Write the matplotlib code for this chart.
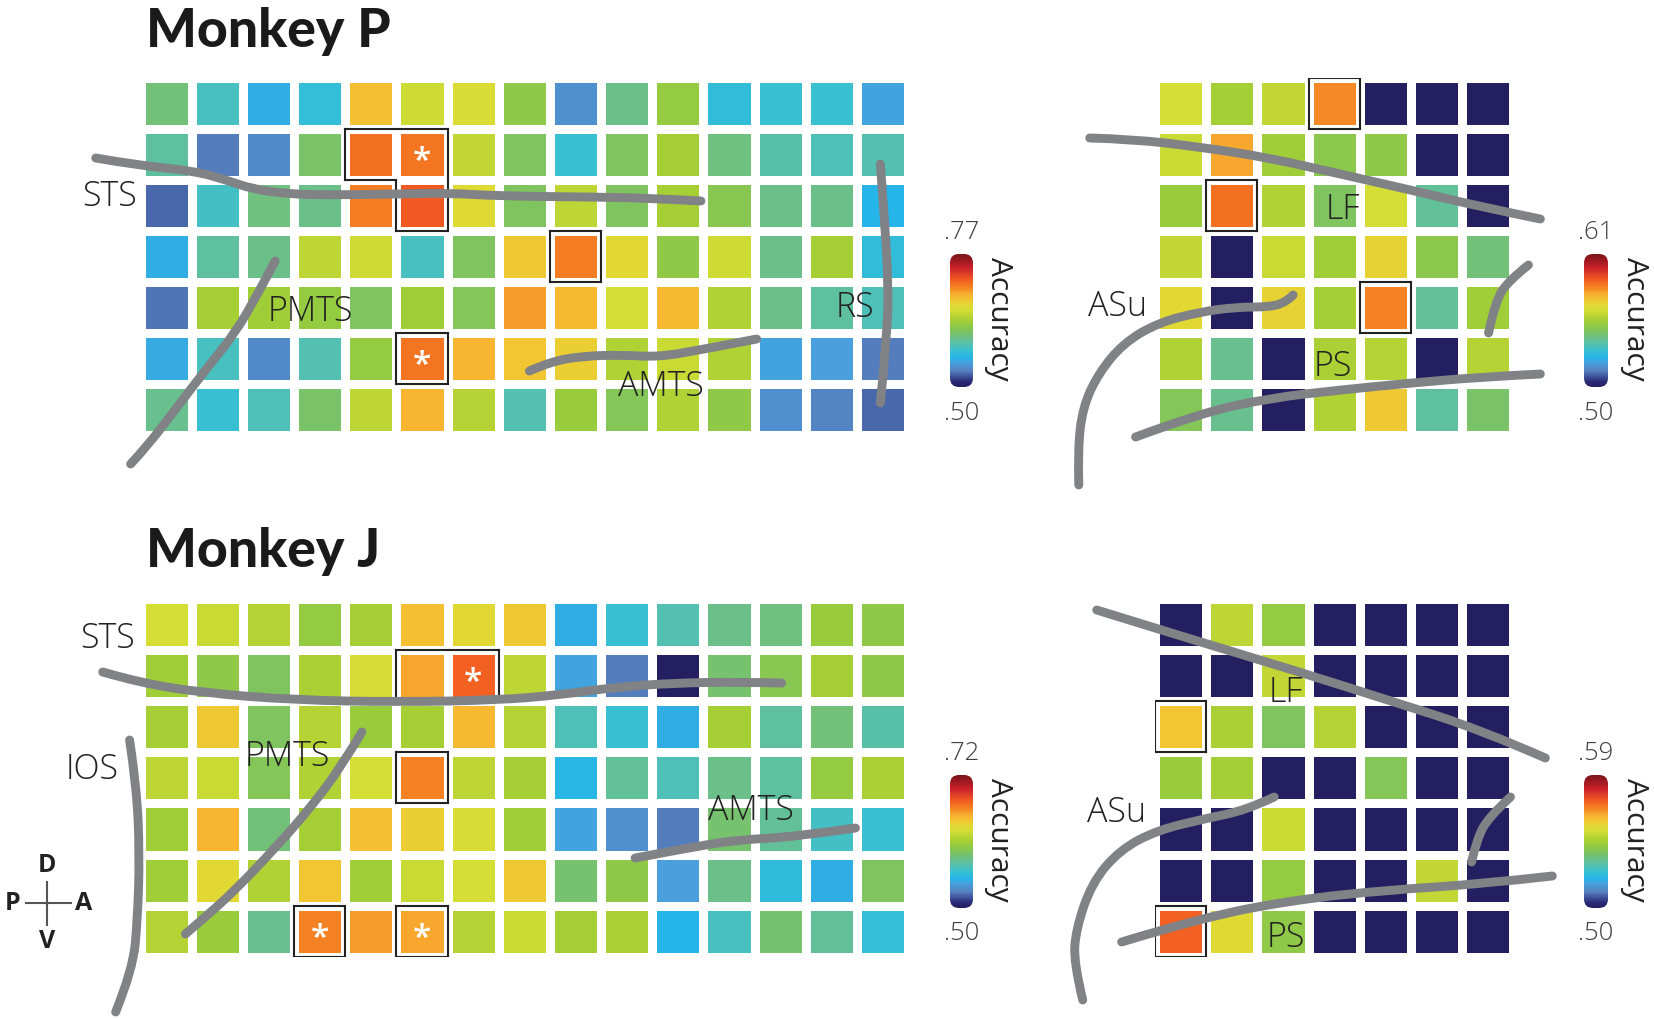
import numpy as np
import matplotlib
matplotlib.use('Agg')
import matplotlib.pyplot as plt
from matplotlib.colors import LinearSegmentedColormap, Normalize
from matplotlib.patches import FancyBboxPatch, PathPatch
from matplotlib.path import Path
from matplotlib.transforms import Affine2D

plt.rcParams['font.family'] = ['Open Sans', 'DejaVu Sans']

W, H = 1654, 1019

# values are given as percent of each panel's colour range (.50 up to the top label)
p_temporal = [
    [39, 30, 21, 26, 67, 57, 59, 46, 15, 37, 47, 25, 27, 27, 19],
    [34, 12, 14, 41, 78, 77, 55, 42, 27, 42, 50, 38, 33, 31, 32],
    [10, 29, 38, 37, 76, 81, 61, 42, 54, 42, 50, 44, 37, 37, 22],
    [21, 34, 37, 54, 57, 30, 42, 65, 76, 62, 46, 57, 37, 50, 25],
    [11, 50, 49, 47, 42, 49, 43, 72, 68, 58, 68, 52, 37, 34, 31],
    [20, 30, 14, 32, 47, 77, 69, 66, 64, 52, 56, 52, 19, 18, 12],
    [36, 27, 31, 41, 54, 69, 53, 32, 48, 43, 52, 46, 15, 13, 10],
]
p_frontal = [
    [58, 50, 55, 74, 0, 0, 0],
    [56, 71, 49, 45, 46, 0, 0],
    [48, 78, 52, 42, 58, 35, 0],
    [55, 0, 56, 49, 63, 45, 39],
    [62, 0, 63, 50, 75, 35, 49],
    [52, 36, 0, 51, 53, 0, 53],
    [43, 36, 0, 52, 65, 34, 41],
]
j_temporal = [
    [58, 56, 53, 47, 50, 67, 62, 65, 21, 27, 32, 37, 38, 48, 46],
    [49, 46, 42, 51, 59, 71, 80, 54, 19, 12, 0, 40, 44, 50, 46],
    [50, 65, 42, 53, 48, 50, 68, 53, 31, 27, 21, 50, 34, 39, 33],
    [54, 56, 43, 52, 58, 75, 54, 50, 23, 35, 31, 37, 34, 47, 51],
    [49, 69, 39, 50, 67, 64, 59, 49, 19, 15, 12, 40, 35, 29, 27],
    [49, 62, 52, 66, 49, 56, 58, 65, 40, 46, 18, 37, 25, 21, 42],
    [53, 48, 36, 75, 72, 71, 53, 56, 50, 51, 22, 30, 40, 35, 26],
]
j_frontal = [
    [0, 54, 47, 0, 0, 0, 0],
    [0, 0, 55, 0, 0, 0, 0],
    [66, 51, 42, 53, 0, 0, 0],
    [48, 50, 0, 0, 43, 0, 0],
    [0, 0, 56, 0, 0, 0, 0],
    [0, 0, 47, 0, 0, 55, 0],
    [80, 61, 46, 0, 0, 0, 0],
]

# (row, col) of boxed groups and asterisks
p_temporal_boxes = [[(1, 4), (1, 5), (2, 5)], [(3, 8)], [(5, 5)]]
p_temporal_stars = [(1, 5), (5, 5)]
p_frontal_boxes = [[(0, 3)], [(2, 1)], [(4, 4)]]
j_temporal_boxes = [[(1, 5), (1, 6)], [(3, 5)], [(6, 3)], [(6, 5)]]
j_temporal_stars = [(1, 6), (6, 3), (6, 5)]
j_frontal_boxes = [[(2, 0)], [(6, 0)]]

cmap_stops = [
    (0.00, '#231f60'), (0.04, '#2b2a78'), (0.12, '#5580c0'), (0.18, '#4a9fdc'),
    (0.22, '#25b5e8'), (0.27, '#38c0d2'), (0.32, '#55c0b0'), (0.37, '#6cc088'),
    (0.42, '#7fc45e'), (0.47, '#94cb40'), (0.50, '#a5cf35'), (0.54, '#bcd535'),
    (0.58, '#d5de35'), (0.62, '#e2d833'), (0.66, '#f3c433'), (0.70, '#f8b030'),
    (0.74, '#f58a25'), (0.78, '#f37021'), (0.81, '#f15a22'), (0.90, '#c8202c'),
    (1.00, '#7a1418'),
]
accuracy_cmap = LinearSegmentedColormap.from_list('accuracy', cmap_stops)

# brain outlines in figure pixels
sulci = [
    [(96, 158), (136, 165), (195, 171), (227, 180), (253, 189), (289, 194), (330, 195),
     (401, 194), (448, 193), (501, 196), (590, 197), (649, 198), (703, 201)],
    [(276, 261), (259, 293), (236, 333), (206, 370), (177, 408), (147, 447), (131, 464)],
    [(531, 371), (551, 362), (584, 356), (625, 355), (660, 357), (702, 350), (759, 339)],
    [(883, 164), (887, 217), (891, 283), (890, 333), (883, 403)],
    [(1093, 138), (1134, 139), (1204, 147), (1274, 158), (1344, 174), (1415, 190),
     (1486, 207), (1545, 219)],
    [(1082, 485), (1081, 450), (1086, 407), (1102, 373), (1127, 343), (1161, 323),
     (1203, 312), (1241, 307), (1274, 307), (1290, 302), (1297, 295)],
    [(1533, 265), (1514, 280), (1500, 300), (1493, 333)],
    [(1139, 437), (1204, 413), (1274, 398), (1344, 390), (1415, 383), (1486, 377), (1545, 374)],
    [(103, 672), (141, 683), (206, 693), (295, 700), (401, 702), (501, 700), (560, 695),
     (619, 687), (678, 683), (737, 682), (784, 683)],
    [(363, 732), (342, 767), (312, 807), (277, 847), (236, 890), (206, 917), (186, 934)],
    [(130, 740), (137, 787), (140, 853), (138, 920), (133, 970), (116, 1012)],
    [(637, 858), (690, 848), (737, 840), (796, 837), (858, 828)],
    [(1100, 610), (1204, 642), (1297, 670), (1392, 700), (1486, 730), (1550, 758)],
    [(1086, 1000), (1077, 963), (1079, 930), (1095, 883), (1123, 850), (1161, 830),
     (1212, 818), (1250, 810), (1278, 797)],
    [(1515, 797), (1493, 817), (1481, 840), (1476, 862)],
    [(1125, 942), (1204, 918), (1297, 900), (1392, 890), (1486, 884), (1557, 876)],
]

labels = [
    ('STS', 110, 197), ('PMTS', 311, 312), ('AMTS', 663, 387), ('RS', 858, 308),
    ('LF', 1347, 210), ('ASu', 1121, 307), ('PS', 1337, 367),
    ('STS', 108, 639), ('IOS', 92, 770), ('PMTS', 288, 757), ('AMTS', 753, 811),
    ('LF', 1290, 693), ('ASu', 1120, 813), ('PS', 1290, 938),
]

X_SCALE = 1.003


def px_axes(fig, x0, y0, x1, y1):
    return fig.add_axes([x0 / W, 1 - y1 / H, (x1 - x0) / W, (y1 - y0) / H])


def draw_grid(fig, rect, pct, top, boxes, stars=()):
    ax = px_axes(fig, *rect)
    pct = np.array(pct)
    accuracy = 0.50 + pct / 100 * (top - 0.50)
    ax.pcolormesh(accuracy, cmap=accuracy_cmap, norm=Normalize(0.50, top),
                  edgecolors='white', linewidth=6.2)
    ax.set_xlim(0, pct.shape[1])
    ax.set_ylim(pct.shape[0], 0)
    ax.axis('off')
    # outline of each group runs along the white gaps
    for group in boxes:
        for r, c in group:
            if (r - 1, c) not in group:
                ax.plot([c, c + 1], [r, r], color='#222222', lw=1.5, solid_capstyle='projecting')
            if (r + 1, c) not in group:
                ax.plot([c, c + 1], [r + 1, r + 1], color='#222222', lw=1.5, solid_capstyle='projecting')
            if (r, c - 1) not in group:
                ax.plot([c, c], [r, r + 1], color='#222222', lw=1.5, solid_capstyle='projecting')
            if (r, c + 1) not in group:
                ax.plot([c + 1, c + 1], [r, r + 1], color='#222222', lw=1.5, solid_capstyle='projecting')
    for r, c in stars:
        ax.text(c + 0.5, r + 0.66, '*', color='white', fontsize=24, fontweight='semibold',
                ha='center', va='center')
    return ax


def draw_colorbar(fig, overlay, x0, y0, x1, y1, top):
    ax = px_axes(fig, x0, y0, x1, y1)
    levels = np.linspace(top, 0.50, 256).reshape(-1, 1)
    im = ax.imshow(levels, cmap=accuracy_cmap, norm=Normalize(0.50, top), aspect='auto',
                   extent=(0, 1, 0, 1))
    clip = FancyBboxPatch((0, 0), x1 - x0, y1 - y0, boxstyle='round,pad=0,rounding_size=9',
                          facecolor='none', edgecolor='none')
    clip.set_transform(Affine2D().translate(x0, H - y1))
    ax.add_patch(clip)
    im.set_clip_path(clip)
    ax.axis('off')
    cx = (x0 + x1) / 2 * X_SCALE
    overlay.text(cx, y0 - 22, f'.{int(round(top * 100))}', fontsize=18.5, color='#404040',
                 ha='center', va='center', fontweight='light')
    overlay.text(cx, y1 + 26, '.50', fontsize=18.5, color='#404040',
                 ha='center', va='center', fontweight='light')
    overlay.text((x1 + 26) * X_SCALE, (y0 + y1) / 2 - 2, 'Accuracy', fontsize=21.5, color='#222222',
                 rotation=270, ha='center', va='center')


def smooth_path(points):
    # quadratic segments through midpoints, vertices act as control points
    pts = np.array(points, dtype=float)
    verts = [pts[0]]
    codes = [Path.MOVETO]
    for i in range(1, len(pts) - 1):
        end = (pts[i] + pts[i + 1]) / 2 if i < len(pts) - 2 else pts[-1]
        verts += [pts[i], end]
        codes += [Path.CURVE3, Path.CURVE3]
    return Path(verts, codes)


fig = plt.figure(figsize=(W / 100, H / 100), dpi=100, facecolor='white')

draw_grid(fig, (140.7, 78.2, 908, 435.3), p_temporal, 0.77, p_temporal_boxes, p_temporal_stars)
draw_grid(fig, (1155, 78.2, 1513.5, 435.3), p_frontal, 0.61, p_frontal_boxes)
draw_grid(fig, (140.7, 598.7, 908, 957), j_temporal, 0.72, j_temporal_boxes, j_temporal_stars)
draw_grid(fig, (1155, 598.7, 1513.5, 957), j_frontal, 0.59, j_frontal_boxes)

overlay = fig.add_axes([0, 0, 1, 1], zorder=5)
overlay.set_xlim(0, W * X_SCALE)
overlay.set_ylim(H, 0)
overlay.axis('off')
overlay.patch.set_alpha(0)

draw_colorbar(fig, overlay, 950, 254, 973, 387, 0.77)
draw_colorbar(fig, overlay, 1584, 254, 1608, 387, 0.61)
draw_colorbar(fig, overlay, 950, 775, 973, 908, 0.72)
draw_colorbar(fig, overlay, 1584, 775, 1608, 908, 0.59)

for line in sulci:
    overlay.add_patch(PathPatch(smooth_path(line), facecolor='none', edgecolor='#808285',
                                lw=6.4, capstyle='round', joinstyle='round'))

for name, x, y in labels:
    overlay.text(x, y, name, fontsize=24.5, color='#222222', ha='center', va='center', fontweight='light')

title_font = ['Lato', 'Open Sans', 'DejaVu Sans']
overlay.text(146, 47, 'Monkey P', fontsize=38.5, fontweight='black', family=title_font,
             color='#1a1a1a', va='baseline')
overlay.text(146, 567, 'Monkey J', fontsize=38.5, fontweight='black', family=title_font,
             color='#1a1a1a', va='baseline')

# orientation cross
overlay.plot([26, 71], [903, 903], color='#555555', lw=1.5)
overlay.plot([47, 47], [882, 925], color='#555555', lw=1.5)
for name, x, y in [('D', 47, 866), ('P', 13, 903), ('A', 84, 903), ('V', 47, 942)]:
    overlay.text(x, y, name, fontsize=18, fontweight='bold', color='#222222', ha='center', va='center')

fig.savefig('out.png', dpi=100)
